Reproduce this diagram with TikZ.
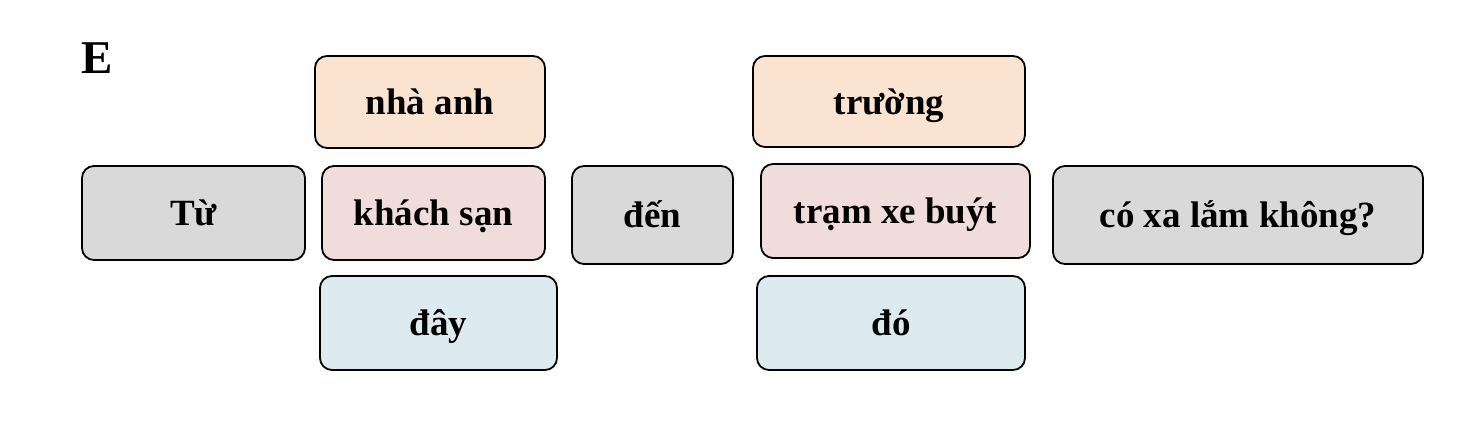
\documentclass[tikz,border=0pt]{standalone}
\usepackage{fontspec}
\setmainfont{Liberation Serif}
\definecolor{cgray}{HTML}{D9D9D9}
\definecolor{cpeach}{HTML}{FAE4D1}
\definecolor{cpink}{HTML}{F0DCDB}
\definecolor{cblue}{HTML}{DDEBF1}
\tikzset{
  wbox/.style={draw=black, line width=1.8pt, rounded corners=12pt, inner sep=0pt,
    text height=30pt, text depth=4pt,
    font=\fontsize{37}{40}\selectfont\bfseries, text=black},
}
\newcommand{\wb}[7]{% name, color, x1, y1, x2, y2, text
  \node[wbox, fill=#2, minimum width={#5-#3}, minimum height={#6-#4}]
    (#1) at ({(#3+#5)/2},{(#4+#6)/2}) {#7};}
\begin{document}
\begin{tikzpicture}[x=1pt,y=-1pt]
\useasboundingbox (0,0) rectangle (1484,430);
\node[anchor=north west, inner sep=0pt, font=\fontsize{47}{49}\selectfont\bfseries] (lbl) at (81,43) {E};
\wb{nha}{cpeach}{315}{56}{545}{148}{nhà anh}
\wb{tu}{cgray}{82}{166}{305}{260}{Từ}
\wb{ks}{cpink}{322}{166}{545}{260}{khách sạn}
\wb{day}{cblue}{320}{276}{557}{370}{đây}
\wb{den}{cgray}{572}{166}{733}{264}{đến}
\wb{truong}{cpeach}{753}{56}{1025}{147}{trường}
\wb{tram}{cpink}{761}{164}{1030}{258}{trạm xe buýt}
\wb{do}{cblue}{757}{276}{1025}{370}{đó}
\wb{coxa}{cgray}{1053}{166}{1423}{264}{có xa lắm không?}
\end{tikzpicture}
\end{document}
